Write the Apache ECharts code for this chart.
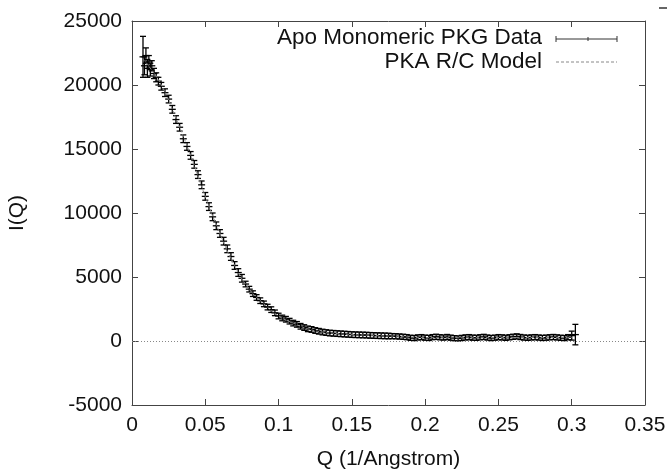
<!DOCTYPE html>
<html>
<head>
<meta charset="utf-8">
<script src="https://cdn.jsdelivr.net/npm/echarts@6/dist/echarts.min.js"></script>
<style>
html,body{margin:0;padding:0;background:#fff}
#chart{width:668px;height:470px}
</style>
</head>
<body>
<div id="chart"></div>
<script>
// measured data (Q, I(Q), error)
var qVals = [0.0075,0.0085,0.0095,0.0105,0.0115,0.0125,0.0135,0.0150,0.0165,0.0180,0.0200,0.0225,
  0.0250,0.0275,0.0300,0.0325,0.0350,0.0375,0.0400,0.0425,0.0450,0.0475,0.0500,0.0525,0.0550,0.0575,
  0.0600,0.0625,0.0650,0.0675,0.0700,0.0725,0.0750,0.0775,0.0800,0.0825,0.0850,0.0875,0.0900,0.0925,
  0.0950,0.0975,0.1000,0.1025,0.1050,0.1075,0.1100,0.1125,0.1150,0.1175,0.1200,0.1225,0.1250,0.1275,
  0.1300,0.1325,0.1350,0.1375,0.1400,0.1425,0.1450,0.1475,0.1500,0.1525,0.1550,0.1575,0.1600,0.1625,
  0.1650,0.1675,0.1700,0.1725,0.1750,0.1775,0.1800,0.1825,0.1850,0.1875,0.1900,0.1925,0.1950,0.1975,
  0.2000,0.2025,0.2050,0.2075,0.2100,0.2125,0.2150,0.2175,0.2200,0.2225,0.2250,0.2275,0.2300,0.2325,
  0.2350,0.2375,0.2400,0.2425,0.2450,0.2475,0.2500,0.2525,0.2550,0.2575,0.2600,0.2625,0.2650,0.2675,
  0.2700,0.2725,0.2750,0.2775,0.2800,0.2825,0.2850,0.2875,0.2900,0.2925,0.2950,0.2975,0.3000,0.3025];
var iVals = [22200,21500,22300,21300,21800,21200,21500,20900,20600,20300,19900,19400,
  18900,18100,17300,16700,15800,15200,14500,13800,13000,12200,11300,10500,9700,9000,
  8400,7800,7200,6600,5900,5350,4900,4450,4050,3700,3400,3150,2900,2650,
  2450,2200,1950,1800,1700,1550,1400,1300,1150,1050,950,900,820,760,
  700,660,620,600,580,560,540,520,500,490,480,470,460,440,
  430,420,410,400,390,380,370,350,330,300,250,230,280,300,
  260,240,300,330,290,270,310,260,220,200,240,280,300,260,
  250,290,320,270,230,260,300,280,250,290,330,360,310,270,
  250,280,300,270,240,260,290,310,280,250,230,300,420,500];
var errVals = [1600,700,600,700,500,500,400,400,350,300,300,300,
  300,300,300,300,300,300,300,300,300,300,300,300,300,300,
  300,300,300,300,300,300,300,220,220,220,220,220,220,220,
  220,220,220,220,220,220,220,220,220,220,220,220,220,220,
  220,220,220,220,220,220,220,220,220,220,220,220,220,220,
  220,220,220,220,220,200,200,200,200,200,200,200,200,200,
  200,200,200,200,200,200,200,200,200,200,200,200,200,200,
  200,200,200,200,200,200,200,200,200,200,200,200,200,200,
  200,200,200,200,200,200,200,200,200,200,200,200,350,800];

// model curve
var modelQ = [0.0075,0.01,0.02,0.03,0.04,0.05,0.06,0.07,0.08,0.09,0.10,0.11,0.12,0.13,
  0.14,0.15,0.16,0.17,0.18,0.19,0.20,0.22,0.24,0.26,0.28,0.30];
var modelI = [22000,21700,20000,17400,14500,11300,8400,5900,4050,2900,1950,1400,950,700,
  580,500,460,410,370,300,270,250,260,280,270,280];

var xTicks = {min: 0, max: 0.35, step: 0.05};
var yTicks = {min: -5000, max: 25000, step: 5000};

var FONT = "'Liberation Sans', Arial, sans-serif";
var INK = '#111';
var AXIS = '#444';

var errData = [];
for (var i = 0; i < qVals.length; i++) {
  errData.push([qVals[i], iVals[i], errVals[i]]);
}
var modelData = [];
for (var j = 0; j < modelQ.length; j++) {
  modelData.push([modelQ[j], modelI[j]]);
}

function renderErr(params, api) {
  var x = api.value(0), y = api.value(1), e = api.value(2);
  var p = api.coord([x, y]);
  var hi = api.coord([x, y + e]);
  var lo = api.coord([x, y - e]);
  var st = {stroke: '#000', lineWidth: 1.3};
  var cw = 3, pw = 3.5;
  return {
    type: 'group',
    children: [
      {type: 'line', shape: {x1: p[0], y1: hi[1], x2: p[0], y2: lo[1]}, style: st},
      {type: 'line', shape: {x1: p[0] - cw, y1: hi[1], x2: p[0] + cw, y2: hi[1]}, style: st},
      {type: 'line', shape: {x1: p[0] - cw, y1: lo[1], x2: p[0] + cw, y2: lo[1]}, style: st},
      {type: 'line', shape: {x1: p[0] - pw, y1: p[1], x2: p[0] + pw, y2: p[1]}, style: st}
    ]
  };
}

function xAxisCfg(pos, labels) {
  return {
    type: 'value', position: pos,
    min: xTicks.min, max: xTicks.max, interval: xTicks.step,
    axisLine: {show: true, onZero: false, lineStyle: {color: AXIS, width: 1}},
    axisTick: {show: true, inside: true, length: 6, lineStyle: {color: AXIS}},
    axisLabel: {show: labels, color: INK, fontSize: 21, fontFamily: FONT, margin: 10},
    splitLine: {show: false},
    name: labels ? 'Q (1/Angstrom)' : '',
    nameLocation: 'middle', nameGap: 44,
    nameTextStyle: {color: INK, fontSize: 21, fontFamily: FONT}
  };
}
function yAxisCfg(pos, labels) {
  return {
    type: 'value', position: pos,
    min: yTicks.min, max: yTicks.max, interval: yTicks.step,
    axisLine: {show: true, onZero: false, lineStyle: {color: AXIS, width: 1}},
    axisTick: {show: true, inside: true, length: 6, lineStyle: {color: AXIS}},
    axisLabel: {show: labels, color: INK, fontSize: 21, fontFamily: FONT, margin: 10,
      formatter: function (v) { return String(v); }},
    splitLine: {show: false},
    name: labels ? 'I(Q)' : '',
    nameLocation: 'middle', nameGap: 104, nameRotate: 90,
    nameTextStyle: {color: INK, fontSize: 21, fontFamily: FONT}
  };
}

var chart = echarts.init(document.getElementById('chart'));
chart.setOption({
  animation: false,
  backgroundColor: '#fff',
  grid: {left: 132, right: 23, top: 21, bottom: 65, outerBoundsMode: 'none', containLabel: false},
  xAxis: [xAxisCfg('bottom', true), xAxisCfg('top', false)],
  yAxis: [yAxisCfg('left', true), yAxisCfg('right', false)],
  series: [
    {
      name: 'Apo Monomeric PKG Data',
      type: 'custom',
      renderItem: renderErr,
      encode: {x: 0, y: 1},
      data: errData,
      z: 3
    },
    {
      name: 'PKA R/C Model',
      type: 'line',
      data: modelData,
      showSymbol: false,
      smooth: true,
      lineStyle: {color: '#888', width: 1, type: [3, 2]},
      z: 4,
      markLine: {
        silent: true,
        symbol: ['none', 'none'],
        label: {show: false},
        lineStyle: {color: '#888', width: 1, type: [1, 2]},
        data: [{yAxis: 0}]
      }
    }
  ],
  graphic: [
    {type: 'text', x: 542, y: 38,
      style: {text: 'Apo Monomeric PKG Data', fill: INK, font: '22.5px ' + FONT, textAlign: 'right', textVerticalAlign: 'middle'}},
    {type: 'text', x: 542, y: 62,
      style: {text: 'PKA R/C Model', fill: INK, font: '22.5px ' + FONT, textAlign: 'right', textVerticalAlign: 'middle'}},
    {type: 'line', shape: {x1: 556, y1: 39, x2: 617, y2: 39}, style: {stroke: '#333', lineWidth: 1}},
    {type: 'line', shape: {x1: 556, y1: 36, x2: 556, y2: 42}, style: {stroke: '#333', lineWidth: 1}},
    {type: 'line', shape: {x1: 617, y1: 36, x2: 617, y2: 42}, style: {stroke: '#333', lineWidth: 1}},
    {type: 'line', shape: {x1: 588, y1: 37, x2: 588, y2: 41}, style: {stroke: '#333', lineWidth: 1}},
    {type: 'line', shape: {x1: 556, y1: 62, x2: 617, y2: 62}, style: {stroke: '#888', lineWidth: 1, lineDash: [3, 2]}},
    {type: 'line', shape: {x1: 659, y1: 8, x2: 667, y2: 8}, style: {stroke: '#333', lineWidth: 1.5}}
  ]
});
</script>
</body>
</html>
